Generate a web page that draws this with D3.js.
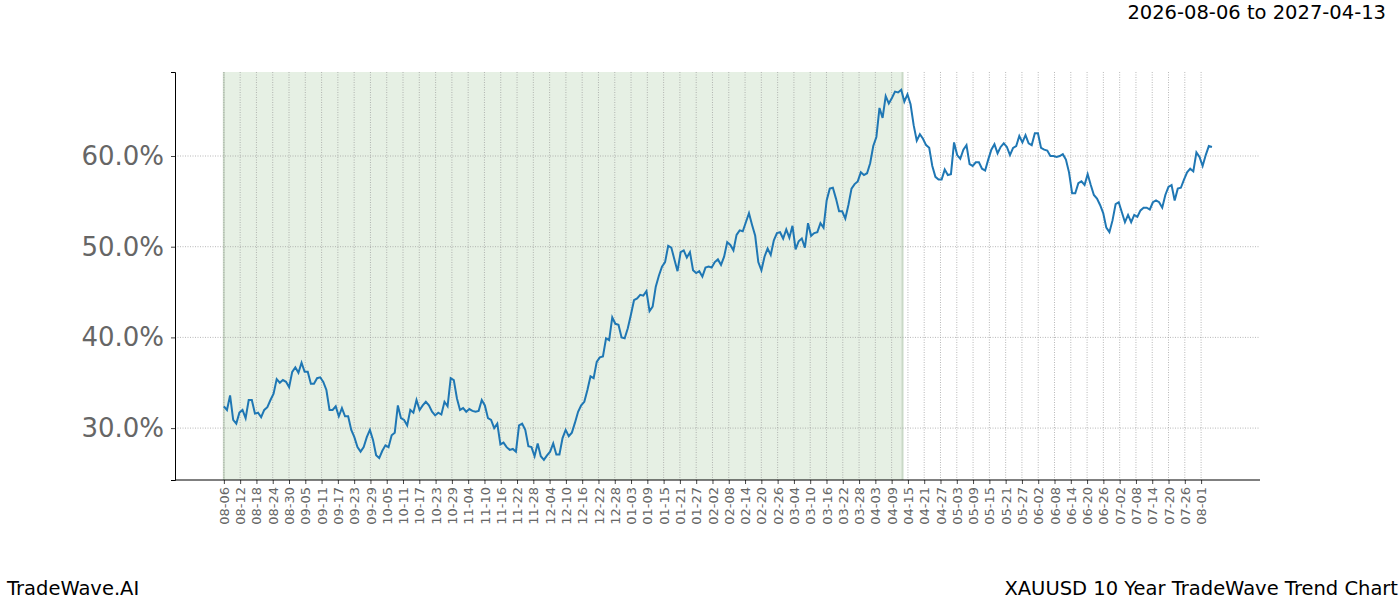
<!DOCTYPE html>
<html><head><meta charset="utf-8">
<script src="https://cdn.jsdelivr.net/npm/d3@7"></script>
<style>body{margin:0;background:#fff;font-family:"DejaVu Sans",sans-serif}</style>
</head><body><svg id="c" width="1400" height="600"></svg>
<script>
const startDate = "2026-08-06";
const lastDate = "2027-08-05";
const shadeStart = "2026-08-06";
const shadeEnd = "2027-04-13";
const yTicks = [30, 40, 50, 60];
const values = [32.4,32.0,33.6,30.9,30.5,31.7,32.0,31.1,33.1,33.1,31.6,31.7,31.2,32.0,32.3,33.1,33.8,35.4,35.0,35.3,35.1,34.5,36.2,36.7,36.1,37.2,36.2,36.2,34.9,34.9,35.5,35.6,35.1,34.2,32.0,32.0,32.4,31.3,32.2,31.3,31.3,29.8,29.0,27.9,27.4,27.9,29.0,29.8,28.7,27.0,26.7,27.5,28.1,27.9,29.2,29.5,32.5,31.1,30.9,30.3,32.0,31.7,33.1,32.0,32.5,32.9,32.5,31.8,31.4,31.7,31.5,32.9,32.4,35.5,35.3,33.3,32.0,32.2,31.8,32.1,31.9,31.8,31.9,33.1,32.5,31.1,30.9,30.0,30.5,28.2,28.4,27.9,27.6,27.7,27.4,30.3,30.5,29.8,28.0,27.9,26.9,28.3,26.9,26.5,27.0,27.4,28.3,27.1,27.1,28.9,29.8,29.1,29.5,30.6,31.8,32.5,32.9,34.2,35.7,35.5,37.3,37.8,37.9,39.9,39.7,42.2,41.5,41.4,40.0,39.9,41.0,42.5,44.1,44.3,44.7,44.6,45.1,42.9,43.4,45.6,46.8,47.8,48.3,50.1,49.9,48.6,47.3,49.4,49.6,48.8,49.4,47.4,47.1,47.3,46.7,47.7,47.8,47.7,48.3,48.6,48.0,48.9,50.5,50.2,49.6,51.3,51.8,51.7,52.7,53.7,52.4,51.2,48.3,47.4,48.9,49.8,49.1,50.7,51.5,51.6,50.9,51.9,51.0,52.3,49.7,50.6,50.9,49.9,52.6,51.2,51.5,51.6,52.6,52.1,55.1,56.4,56.5,55.3,53.9,53.9,53.1,54.6,56.4,56.9,57.2,58.2,57.9,58.1,59.2,61.1,62.1,65.3,64.2,66.6,65.8,66.4,67.1,67.0,67.3,66.0,66.8,65.7,63.4,61.7,62.4,61.9,61.2,60.9,58.9,57.7,57.4,57.4,58.5,57.9,58.0,61.5,60.1,59.7,60.7,61.2,59.1,58.9,59.3,59.3,58.6,58.4,59.6,60.7,61.3,60.3,61.0,61.4,61.0,60.1,60.9,61.1,62.2,61.5,62.3,61.4,61.2,62.5,62.5,60.9,60.7,60.6,60.0,60.0,59.9,60.0,60.2,59.6,58.2,55.9,55.9,57.0,57.2,56.8,58.0,56.8,55.7,55.3,54.6,53.7,52.1,51.6,52.9,54.7,54.9,53.8,52.7,53.5,52.7,53.5,53.3,54.0,54.3,54.3,54.1,54.9,55.1,54.9,54.3,55.7,56.6,56.8,55.1,56.4,56.5,57.4,58.2,58.6,58.3,60.4,59.9,58.9,60.1,61.1,61.0];

const parse = d3.timeParse("%Y-%m-%d");
const t0 = parse(startDate), t1 = parse(lastDate);
const dates = values.map((v,i)=> new Date(+t0 + (t1-t0)*i/(values.length-1)));
const svg = d3.select("#c");
const L=175,R=1260,T=72,B=480;
const day = 864e5;
const x = d3.scaleTime().domain([new Date(+t0-18*day), new Date(+t0+381.7*day)]).range([L,R]);
const y = d3.scaleLinear().domain([60-(B-156)/9.07, 60+(156-T)/9.07]).range([B,T]);

svg.append("rect").attr("x",x(parse(shadeStart))).attr("y",T).attr("width",x(parse(shadeEnd))-x(parse(shadeStart))).attr("height",B-T).attr("fill","#e6f0e4");
[shadeStart,shadeEnd].forEach(s=>svg.append("line").attr("x1",x(parse(s))).attr("x2",x(parse(s))).attr("y1",T).attr("y2",B).attr("stroke","#c9d8c6").attr("stroke-width",2));

const ticks = d3.range(0,61).map(i=>new Date(+t0+i*6*day));
svg.append("g").selectAll("line").data(ticks).join("line").attr("x1",d=>x(d)).attr("x2",d=>x(d)).attr("y1",T).attr("y2",B).attr("stroke","#999").attr("stroke-width",0.7).attr("stroke-dasharray","1,1.5");
svg.append("g").selectAll("line").data(yTicks).join("line").attr("x1",L).attr("x2",R).attr("y1",d=>y(d)).attr("y2",d=>y(d)).attr("stroke","#999").attr("stroke-width",0.7).attr("stroke-dasharray","1,1.5");

const xa = svg.append("g").attr("transform",`translate(0,${B})`).call(d3.axisBottom(x).tickValues(ticks).tickFormat(d3.timeFormat("%m-%d")).tickSize(4));
xa.select(".domain").remove();
xa.selectAll("line").attr("stroke","#444");
xa.selectAll(".tick text").attr("font-size",13).attr("fill","#666").attr("font-family","DejaVu Sans")
  .attr("transform","rotate(-90)").attr("text-anchor","end").attr("x",-7).attr("y",0).attr("dy","0.35em");
const ya = svg.append("g").attr("transform",`translate(${L},0)`).call(d3.axisLeft(y).tickValues(yTicks).tickFormat(d=>d.toFixed(1)+"%").tickSize(4));
ya.select(".domain").attr("stroke","#000");
ya.selectAll("line").attr("stroke","#444");
ya.selectAll("text").attr("font-size",26).attr("fill","#666").attr("font-family","DejaVu Sans").attr("dx",-4);
svg.append("line").attr("x1",L).attr("x2",R).attr("y1",B).attr("y2",B).attr("stroke","#000");

svg.append("path").datum(values).attr("fill","none").attr("stroke","#1f77b4").attr("stroke-width",2)
 .attr("d",d3.line().x((d,i)=>x(dates[i])).y(d=>y(d)));

svg.append("text").attr("x",1386).attr("y",19).attr("text-anchor","end").attr("font-size",19.5).text("2026-08-06 to 2027-04-13");
svg.append("text").attr("x",7).attr("y",595).attr("font-size",19.5).text("TradeWave.AI");
svg.append("text").attr("x",1398).attr("y",595).attr("text-anchor","end").attr("font-size",19.5).text("XAUUSD 10 Year TradeWave Trend Chart");
</script></body></html>
